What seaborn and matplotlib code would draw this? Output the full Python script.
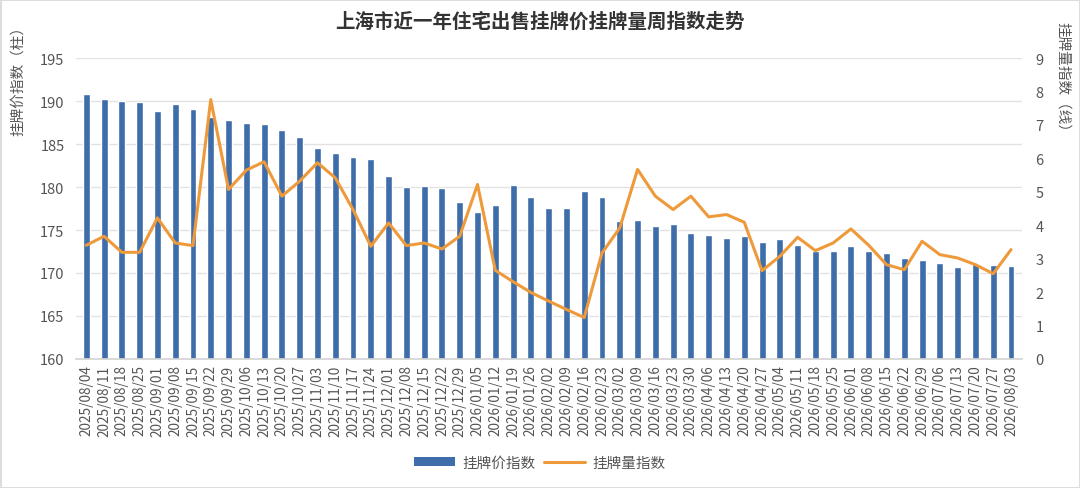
import numpy as np
import pandas as pd
import matplotlib
matplotlib.use("Agg")
import matplotlib.pyplot as plt
import seaborn as sns
from matplotlib.patches import Patch
from matplotlib.lines import Line2D

# ---- data ----
weeks = [
    "2025/08/04", "2025/08/11", "2025/08/18", "2025/08/25", "2025/09/01", "2025/09/08",
    "2025/09/15", "2025/09/22", "2025/09/29", "2025/10/06", "2025/10/13", "2025/10/20",
    "2025/10/27", "2025/11/03", "2025/11/10", "2025/11/17", "2025/11/24", "2025/12/01",
    "2025/12/08", "2025/12/15", "2025/12/22", "2025/12/29", "2026/01/05", "2026/01/12",
    "2026/01/19", "2026/01/26", "2026/02/02", "2026/02/09", "2026/02/16", "2026/02/23",
    "2026/03/02", "2026/03/09", "2026/03/16", "2026/03/23", "2026/03/30", "2026/04/06",
    "2026/04/13", "2026/04/20", "2026/04/27", "2026/05/04", "2026/05/11", "2026/05/18",
    "2026/05/25", "2026/06/01", "2026/06/08", "2026/06/15", "2026/06/22", "2026/06/29",
    "2026/07/06", "2026/07/13", "2026/07/20", "2026/07/27", "2026/08/03",
]
price_index = [
    190.8, 190.3, 190.0, 189.9, 188.8, 189.7, 189.1, 188.2, 187.8, 187.4, 187.3, 186.6,
    185.8, 184.5, 184.0, 183.5, 183.3, 181.3, 180.0, 180.1, 179.85, 178.3, 177.1, 177.9,
    180.2, 178.9, 177.6, 177.6, 179.5, 178.9, 176.0, 176.2, 175.5, 175.7, 174.7, 174.4,
    174.1, 174.3, 173.6, 173.9, 173.3, 172.6, 172.6, 173.1, 172.6, 172.3, 171.8, 171.5,
    171.2, 170.7, 171.0, 170.9, 170.85,
]
volume_index = [
    3.40, 3.67, 3.19, 3.19, 4.22, 3.47, 3.39, 7.76, 5.07, 5.65, 5.90, 4.87,
    5.32, 5.87, 5.42, 4.47, 3.37, 4.07, 3.39, 3.47, 3.29, 3.67, 5.22, 2.65,
    2.31, 1.99, 1.73, 1.48, 1.24, 3.17, 3.92, 5.67, 4.87, 4.47, 4.87, 4.25,
    4.32, 4.09, 2.64, 3.07, 3.64, 3.24, 3.47, 3.89, 3.40, 2.82, 2.67, 3.52,
    3.12, 3.02, 2.82, 2.55, 3.27,
]

df = pd.DataFrame({"week": weeks, "price": price_index, "volume": volume_index})
df["pos"] = np.arange(len(df))

bar_color = "#3E6DAA"
line_color = "#EE9A3A"
text_color = "#555555"

sns.set_theme(style="white")
plt.rcParams["font.family"] = ["Noto Sans CJK SC", "DejaVu Sans"]

fig = plt.figure(figsize=(10.8, 4.89), dpi=100)
fig.patch.set_facecolor("white")
fig.patch.set_edgecolor("#dddddd")
fig.patch.set_linewidth(2)
ax = fig.add_axes([0.070, 0.264, 0.876, 0.615])

# bars (left axis)
sns.barplot(data=df, x="week", y="price", color=bar_color, saturation=1,
            width=0.39, ax=ax, zorder=2)
ax.set_ylim(160, 195)
ax.set_yticks(np.arange(160, 196, 5))
ax.yaxis.grid(True, color="#e2e2e2", linewidth=1, zorder=0)
ax.set_axisbelow(True)
ax.set_xlim(-0.6, len(df) - 0.4)
ax.set_xlabel("")
ax.set_ylabel("挂牌价指数（柱）", color=text_color, fontsize=10.5)
ax.yaxis.set_label_coords(-0.053, 0.94)
ax.tick_params(axis="x", labelrotation=90, labelsize=9.8, colors=text_color, length=0, pad=4)
ax.tick_params(axis="y", labelsize=10.5, colors=text_color, length=0, pad=8)
for s in ax.spines.values():
    s.set_visible(False)
ax.spines["bottom"].set_visible(True)
ax.spines["bottom"].set_color("#d5d5d5")

# line (right axis)
ax2 = ax.twinx()
sns.lineplot(data=df, x="pos", y="volume", color=line_color, linewidth=2.2, ax=ax2, zorder=3)
ax2.set_ylim(0, 9)
ax2.set_yticks(np.arange(0, 10, 1))
ax2.set_xlim(-0.6, len(df) - 0.4)
ax2.grid(False)
ax2.set_xlabel("")
ax2.set_ylabel("挂牌量指数（线）", color=text_color, fontsize=10.5, rotation=270,
               va="center")
ax2.yaxis.set_label_coords(1.043, 0.93)
ax2.tick_params(axis="y", labelsize=10.5, colors=text_color, length=0, pad=10)
for s in ax2.spines.values():
    s.set_visible(False)

fig.suptitle("上海市近一年住宅出售挂牌价挂牌量周指数走势", x=0.5, y=0.975,
             fontsize=14, fontweight="bold", color="#333333")

handles = [Patch(facecolor=bar_color, edgecolor="none", label="挂牌价指数"),
           Line2D([0], [0], color=line_color, linewidth=2.2, label="挂牌量指数")]
fig.legend(handles=handles, loc="center", bbox_to_anchor=(0.5, 0.052), ncol=2,
           frameon=False, fontsize=10.5, handlelength=2.8, handleheight=0.6,
           columnspacing=0.6, handletextpad=0.5, labelcolor=text_color)

fig.savefig("out.png", dpi=100, facecolor=fig.get_facecolor(),
            edgecolor=fig.get_edgecolor())
